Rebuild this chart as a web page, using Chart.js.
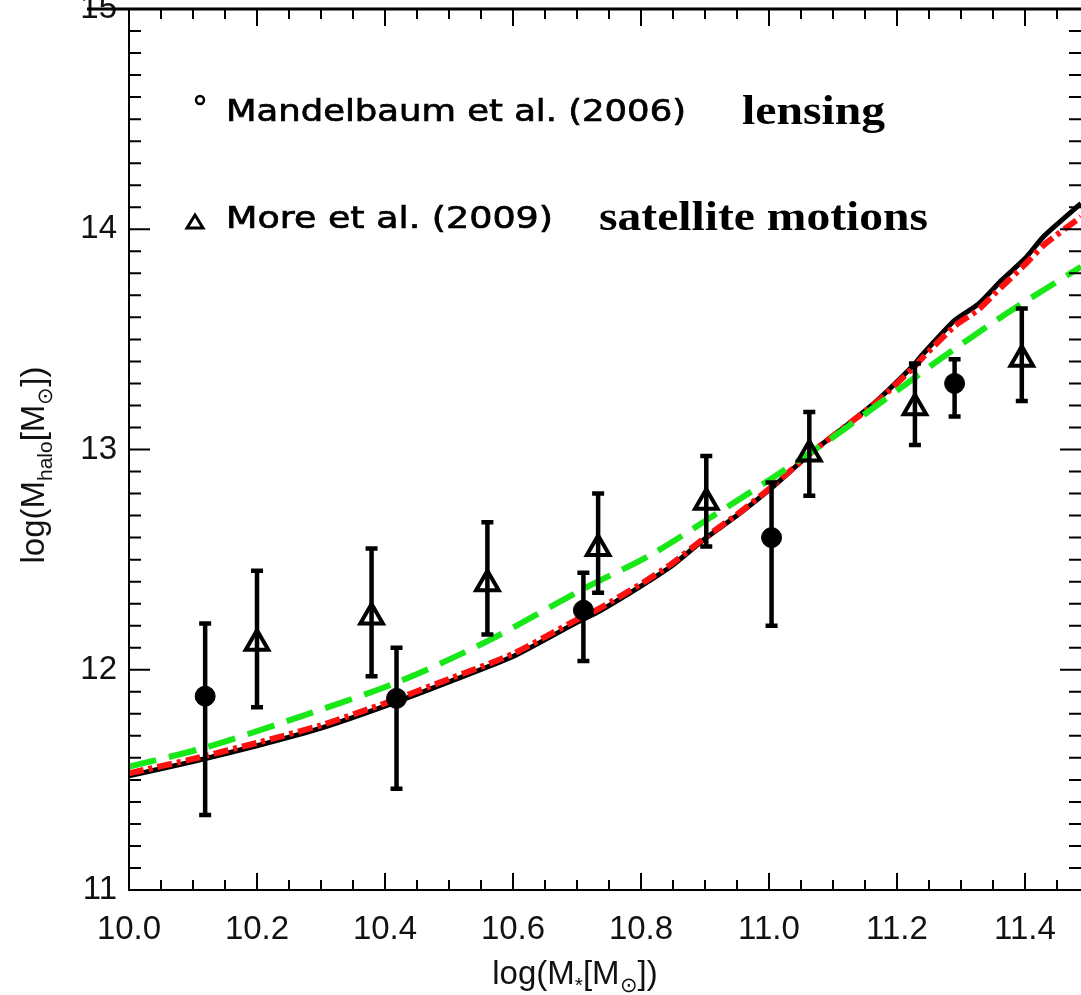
<!DOCTYPE html>
<html>
<head>
<meta charset="utf-8">
<script src="https://cdn.jsdelivr.net/npm/chart.js@4.4.1/dist/chart.umd.min.js"></script>
<style>
  html, body { margin: 0; padding: 0; background: #fff; }
</style>
</head>
<body>
<canvas id="chart" width="1081" height="995"></canvas>
<script>
// tick labels
const xTicks = [10.0, 10.2, 10.4, 10.6, 10.8, 11.0, 11.2, 11.4];
const yTicks = [11, 12, 13, 14, 15];

// Mandelbaum et al. (2006) - lensing
const mandX  = [10.119, 10.418, 10.710, 11.004, 11.290];
const mandY  = [11.88, 11.87, 12.27, 12.60, 13.30];
const mandLo = [11.34, 11.46, 12.04, 12.20, 13.15];
const mandHi = [12.21, 12.10, 12.44, 12.85, 13.41];

// More et al. (2009) - satellite motions
const moreX  = [10.200, 10.379, 10.560, 10.733, 10.902, 11.063, 11.228, 11.395];
const moreY  = [12.12, 12.24, 12.39, 12.55, 12.76, 12.98, 13.19, 13.41];
const moreLo = [11.83, 11.97, 12.16, 12.35, 12.56, 12.79, 13.02, 13.22];
const moreHi = [12.45, 12.55, 12.67, 12.80, 12.97, 13.17, 13.39, 13.64];

// model curves
const blackX = [10.00, 10.10, 10.20, 10.30, 10.40, 10.50, 10.60, 10.70, 10.736, 10.80, 10.845, 10.90, 10.95, 11.006, 11.068, 11.115, 11.168, 11.225, 11.241, 11.29, 11.327, 11.364, 11.40, 11.43, 11.4875];
const blackY = [11.518, 11.583, 11.655, 11.735, 11.835, 11.945, 12.06, 12.215, 12.268, 12.38, 12.465, 12.595, 12.70, 12.83, 12.99, 13.095, 13.22, 13.38, 13.435, 13.586, 13.66, 13.77, 13.867, 13.97, 14.117];
const redY   = [11.53, 11.595, 11.668, 11.748, 11.848, 11.958, 12.072, 12.228, 12.28, 12.39, 12.475, 12.60, 12.705, 12.835, 12.99, 13.095, 13.215, 13.37, 13.42, 13.56, 13.635, 13.74, 13.84, 13.93, 14.056];
const greenX = [10.0, 10.119, 10.25, 10.418, 10.56, 10.71, 10.814, 10.908, 11.007, 11.10, 11.173, 11.225, 11.267, 11.371, 11.4875];
const greenY = [11.56, 11.647, 11.77, 11.942, 12.13, 12.367, 12.52, 12.69, 12.874, 13.056, 13.21, 13.32, 13.41, 13.617, 13.83];

const pts = (xs, ys) => xs.map((x, i) => ({ x: x, y: ys[i] }));

const tickFont = { family: 'Liberation Sans', size: 33 };

function fitText(ctx, text, x, base, width, font, stroke) {
    ctx.font = font;
    const w = ctx.measureText(text).width;
    ctx.save();
    ctx.translate(x, base);
    ctx.scale(width / w, 1);
    ctx.fillText(text, 0, 0);
    if (stroke) {
        ctx.lineWidth = stroke;
        ctx.strokeText(text, 0, 0);
    }
    ctx.restore();
}

// error bars, drawn through the scales
const errorBars = {
    id: 'errorBars',
    afterDatasetsDraw(chart) {
        const { ctx, scales: { x, y } } = chart;
        ctx.save();
        ctx.strokeStyle = '#000';
        ctx.lineWidth = 4.5;
        const draw = (xs, lo, hi) => {
            xs.forEach((v, i) => {
                const px = x.getPixelForValue(v);
                const p1 = y.getPixelForValue(lo[i]);
                const p2 = y.getPixelForValue(hi[i]);
                ctx.beginPath();
                ctx.moveTo(px, p1); ctx.lineTo(px, p2);
                ctx.moveTo(px - 6, p1); ctx.lineTo(px + 6, p1);
                ctx.moveTo(px - 6, p2); ctx.lineTo(px + 6, p2);
                ctx.stroke();
            });
        };
        draw(mandX, mandLo, mandHi);
        draw(moreX, moreLo, moreHi);
        ctx.restore();
    }
};

// box, inward ticks, axis titles and the in-plot legend
const frame = {
    id: 'frame',
    afterDraw(chart) {
        const { ctx, chartArea: a, scales: { x, y } } = chart;
        ctx.save();
        ctx.strokeStyle = '#000';
        ctx.fillStyle = '#000';

        ctx.lineWidth = 3;
        ctx.beginPath();
        ctx.moveTo(87, a.top); ctx.lineTo(a.right, a.top);
        ctx.stroke();
        ctx.lineWidth = 2;
        ctx.beginPath();
        ctx.moveTo(a.left, a.top); ctx.lineTo(a.left, a.bottom); ctx.lineTo(a.right, a.bottom);
        ctx.stroke();

        ctx.lineWidth = 2;
        ctx.beginPath();
        for (let i = 0; i <= 29; i++) {
            const px = x.getPixelForValue(10 + i * 0.05);
            const len = i % 4 === 0 ? 17 : 10;
            ctx.moveTo(px, a.bottom); ctx.lineTo(px, a.bottom - len);
            ctx.moveTo(px, a.top); ctx.lineTo(px, a.top + len);
        }
        for (let i = 0; i <= 40; i++) {
            const py = y.getPixelForValue(11 + i * 0.1);
            const len = i % 10 === 0 ? 21 : 12;
            ctx.moveTo(a.left, py); ctx.lineTo(a.left + len, py);
            ctx.moveTo(a.right, py); ctx.lineTo(a.right - len, py);
        }
        ctx.stroke();

        // axis titles
        ctx.fillStyle = '#111';
        ctx.textBaseline = 'alphabetic';
        const big = '33px "Liberation Sans"';
        const small = '21px "Liberation Sans"';
        const drawParts = (parts) => {
            let cx = 0;
            parts.forEach(p => {
                ctx.font = p[1] ? small : big;
                ctx.fillText(p[0], cx, p[1] ? 8 : 0);
                cx += ctx.measureText(p[0]).width;
            });
        };
        const widthOf = (parts) => parts.reduce((s, p) => {
            ctx.font = p[1] ? small : big;
            return s + ctx.measureText(p[0]).width;
        }, 0);

        const yTitle = [['log(M', 0], ['halo', 1], ['[M', 0], ['\u2299', 1], ['])', 0]];
        ctx.save();
        ctx.translate(44, 465 + widthOf(yTitle) / 2);
        ctx.rotate(-Math.PI / 2);
        drawParts(yTitle);
        ctx.restore();

        const xTitle = [['log(M', 0], ['*', 1], ['[M', 0], ['\u2299', 1], ['])', 0]];
        ctx.save();
        ctx.translate(575 - widthOf(xTitle) / 2, 984);
        drawParts(xTitle);
        ctx.restore();

        // legend
        ctx.fillStyle = '#000';
        ctx.lineWidth = 2.5;
        ctx.beginPath();
        ctx.arc(200, 100, 4, 0, Math.PI * 2);
        ctx.stroke();
        ctx.lineWidth = 3;
        ctx.beginPath();
        ctx.moveTo(195, 215); ctx.lineTo(203, 228); ctx.lineTo(187, 228); ctx.closePath();
        ctx.stroke();

        ctx.strokeStyle = '#000';
        fitText(ctx, 'Mandelbaum et al. (2006)', 226, 121, 460, '30px "DejaVu Sans"', 0.7);
        fitText(ctx, 'More et al. (2009)', 226, 228, 327, '30px "DejaVu Sans"', 0.7);
        fitText(ctx, 'lensing', 742, 124, 143, 'bold 42px "Liberation Serif"');
        fitText(ctx, 'satellite motions', 599, 230, 329, 'bold 42px "Liberation Serif"');
        ctx.restore();
    }
};

new Chart(document.getElementById('chart'), {
    type: 'scatter',
    data: {
        datasets: [
            {
                label: 'Mandelbaum et al. (2006)',
                data: pts(mandX, mandY),
                pointStyle: 'circle',
                pointRadius: 10,
                backgroundColor: '#000',
                borderColor: '#000',
                borderWidth: 1
            },
            {
                label: 'More et al. (2009)',
                data: pts(moreX, moreY),
                pointStyle: 'triangle',
                pointRadius: 13,
                backgroundColor: 'rgba(0,0,0,0)',
                borderColor: '#000',
                borderWidth: 4
            },
            {
                label: 'green',
                data: pts(greenX, greenY),
                showLine: true,
                pointRadius: 0,
                borderColor: 'rgb(24,232,24)',
                borderWidth: 6,
                borderDash: [28, 13],
                tension: 0.3,
                fill: false
            },
            {
                label: 'red',
                data: pts(blackX, redY),
                showLine: true,
                pointRadius: 0,
                borderColor: '#ff1010',
                borderWidth: 6,
                borderDash: [15, 5, 4, 5],
                tension: 0.2,
                fill: false
            },
            {
                label: 'black',
                data: pts(blackX, blackY),
                showLine: true,
                pointRadius: 0,
                borderColor: '#000',
                borderWidth: 5,
                tension: 0.2,
                fill: false
            }
        ]
    },
    options: {
        responsive: false,
        animation: false,
        events: [],
        layout: { autoPadding: false, padding: { top: 9, right: 0, left: 0, bottom: 0 } },
        plugins: {
            legend: { display: false },
            tooltip: { enabled: false }
        },
        scales: {
            x: {
                type: 'linear',
                min: 10.0,
                max: 11.4875,
                grid: { display: false, drawTicks: false },
                border: { display: false },
                afterBuildTicks: s => { s.ticks = xTicks.map(v => ({ value: v })); },
                afterFit: s => { s.height = 105; s.paddingLeft = 0; s.paddingRight = 0; },
                ticks: {
                    autoSkip: false,
                    maxRotation: 0,
                    padding: 20,
                    color: '#111',
                    font: tickFont,
                    callback: v => v.toFixed(1)
                }
            },
            y: {
                type: 'linear',
                min: 11,
                max: 15,
                grid: { display: false, drawTicks: false },
                border: { display: false },
                afterBuildTicks: s => { s.ticks = yTicks.map(v => ({ value: v })); },
                afterFit: s => { s.width = 129; s.paddingTop = 0; s.paddingBottom = 0; },
                ticks: {
                    autoSkip: false,
                    padding: 12,
                    color: '#111',
                    font: tickFont,
                    callback: v => String(v)
                }
            }
        }
    },
    plugins: [errorBars, frame]
});
</script>
</body>
</html>
